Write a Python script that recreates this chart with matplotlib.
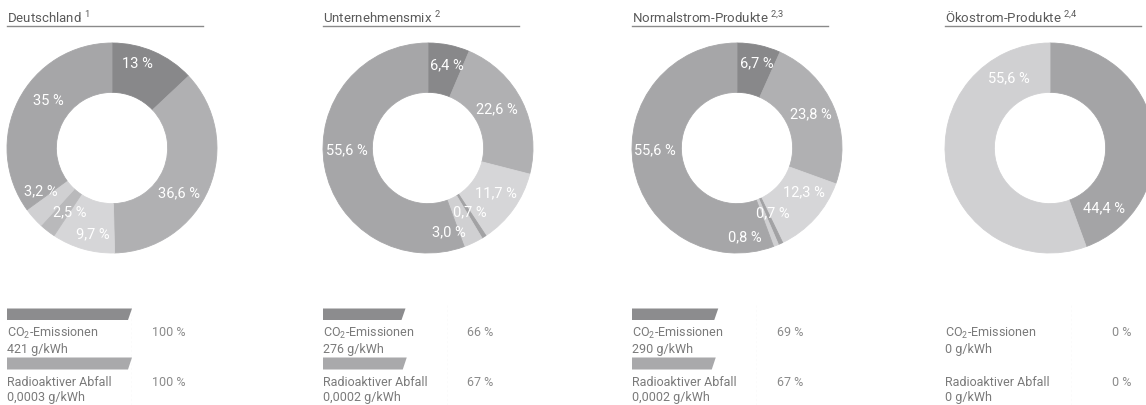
import matplotlib
matplotlib.use("Agg")
import matplotlib.pyplot as plt
from matplotlib import font_manager

W, H = 1146, 405

# --- data ---
titles = ["Deutschland", "Unternehmensmix", "Normalstrom-Produkte", "Ökostrom-Produkte"]
footnotes = ["1", "2", "2{,}3", "2{,}4"]

de_values = [13.0, 36.6, 9.7, 2.5, 3.2, 35.0]
de_labels = ["13 %", "36,6 %", "9,7 %", "2,5 %", "3,2 %", "35 %"]
um_values = [6.4, 22.6, 11.7, 0.7, 3.0, 55.6]
um_labels = ["6,4 %", "22,6 %", "11,7 %", "0,7 %", "3,0 %", "55,6 %"]
ns_values = [6.7, 23.8, 12.3, 0.7, 0.8, 55.6]
ns_labels = ["6,7 %", "23,8 %", "12,3 %", "0,7 %", "0,8 %", "55,6 %"]
oe_values = [44.4, 55.6]
oe_labels = ["44,4 %", "55,6 %"]

co2_text = ["421 g/kWh", "276 g/kWh", "290 g/kWh", "0 g/kWh"]
co2_pct = [100, 66, 69, 0]
rad_text = ["0,0003 g/kWh", "0,0002 g/kWh", "0,0002 g/kWh", "0 g/kWh"]
rad_pct = [100, 67, 67, 0]

# --- styles / layout ---
six_colors = ["#88888a", "#b0b0b2", "#d6d6d8", "#b9b9bb", "#d0d0d2", "#a6a6a8"]
mix_colors = ["#88888a", "#b0b0b2", "#d6d6d8", "#a2a2a4", "#d0d0d2", "#a6a6a8"]
oe_colors = ["#a4a4a6", "#d0d0d2"]

de_pos = [(0.24, 0.80), (0.64, -0.43), (-0.18, -0.82), (-0.40, -0.61), (-0.68, -0.41), (-0.61, 0.45)]
um_pos = [(0.18, 0.79), (0.66, 0.37), (0.65, -0.43), (0.40, -0.61), (0.20, -0.80), (-0.77, -0.02)]
ns_pos = [(0.19, 0.81), (0.70, 0.32), (0.64, -0.42), (0.34, -0.62), (0.07, -0.85), (-0.78, -0.02)]
oe_pos = [(0.51, -0.57), (-0.39, 0.66)]

panels = [
    (de_values, de_labels, six_colors, de_pos),
    (um_values, um_labels, mix_colors, um_pos),
    (ns_values, ns_labels, mix_colors, ns_pos),
    (oe_values, oe_labels, oe_colors, oe_pos),
]

centers_x = [112, 428, 737, 1050]
center_y, radius = 148, 105
left_x = [7, 323, 632, 945]
dash_x = [132, 448, 757, 1072]
pct_x = [152, 467, 777, 1112]

available = {f.name for f in font_manager.fontManager.ttflist}
FONT = next(f for f in ["Liberation Sans Narrow", "Roboto", "DejaVu Sans"] if f in available)
plt.rcParams["font.family"] = FONT
plt.rcParams["mathtext.fontset"] = "custom"
plt.rcParams["mathtext.rm"] = FONT
plt.rcParams["mathtext.it"] = FONT
plt.rcParams["mathtext.bf"] = FONT

fig = plt.figure(figsize=(W / 100, H / 100), dpi=100)

# overlay in pixel coordinates for titles and text
ov = fig.add_axes([0, 0, 1, 1])
ov.set_xlim(0, W)
ov.set_ylim(H, 0)
ov.axis("off")

for i, (vals, labs, cols, pos) in enumerate(panels):
    cx = centers_x[i]
    ax = fig.add_axes([(cx - radius) / W, (H - center_y - radius) / H,
                       2 * radius / W, 2 * radius / H])
    wedges, _ = ax.pie(vals, colors=cols, startangle=90, counterclock=False,
                       wedgeprops=dict(width=0.47, linewidth=0.6))
    for w in wedges:
        w.set_edgecolor(w.get_facecolor())
    for lab, (lx, ly) in zip(labs, pos):
        ax.text(lx, ly, lab, color="white", ha="center", va="center", fontsize=10.5)
    ax.set_xlim(-1, 1)
    ax.set_ylim(-1, 1)
    ax.axis("off")

    # title + underline
    x0 = left_x[i]
    ov.text(x0, 23, rf"{titles[i]} $^{{\mathrm{{{footnotes[i]}}}}}$",
            fontsize=9.5, color="#5a5a5a", ha="left", va="baseline")
    ov.plot([x0, x0 + 196], [26, 26], color="#8a8a8a", lw=1)

    # comparison bars, x axis in percent (0..100 up to the dashed line)
    axb = fig.add_axes([x0 / W, 0, (dash_x[i] - x0) / W, 105 / H])
    axb.set_xlim(0, 100)
    axb.set_ylim(405, 300)
    axb.axis("off")
    slant = 3.2
    for v, (top, bot), col in [(co2_pct[i], (308.5, 320), "#8c8c8e"),
                               (rad_pct[i], (357.5, 369.5), "#a9a9ab")]:
        if v > 0:
            axb.fill([0, v, v - slant, 0], [top, top, bot, bot], color=col, lw=0)
    axb.plot([100, 100], [305, 405], color="#c4c4c4", lw=0.8, ls=(0, (2, 2)))

    txt_col = "#7a7a7a"
    ov.text(x0, 333, r"CO$_\mathrm{2}$-Emissionen", fontsize=9, color=txt_col, va="center")
    ov.text(x0, 349, co2_text[i], fontsize=9, color=txt_col, va="center")
    ov.text(x0, 382, "Radioaktiver Abfall", fontsize=9, color=txt_col, va="center")
    ov.text(x0, 397, rad_text[i], fontsize=9, color=txt_col, va="center")
    ov.text(pct_x[i], 333, f"{co2_pct[i]} %", fontsize=9, color="#8a8a8a", va="center")
    ov.text(pct_x[i], 382, f"{rad_pct[i]} %", fontsize=9, color="#8a8a8a", va="center")

fig.savefig("out.png", dpi=100)
